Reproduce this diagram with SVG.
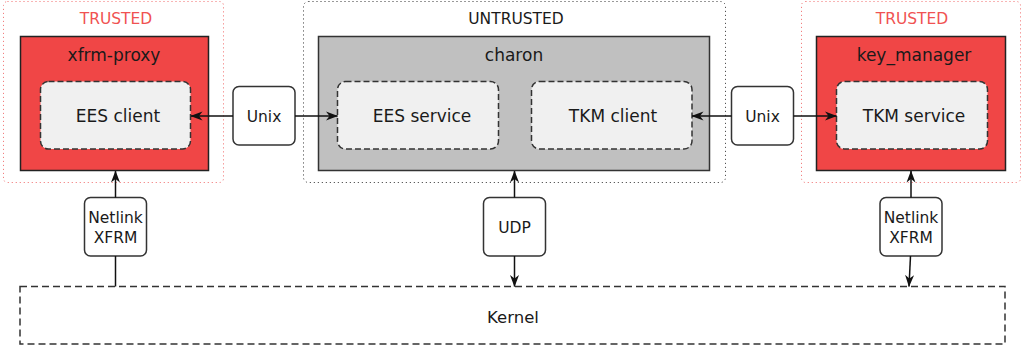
<svg xmlns="http://www.w3.org/2000/svg" width="1023" height="347" viewBox="0 0 1023 347">
  <style>
    text { font-family: "DejaVu Sans", "Liberation Sans", sans-serif; fill: #1a1a1a; text-anchor: middle; }
    .zone-t { fill: none; stroke: #f06a6a; stroke-width: 1; stroke-dasharray: 1 3; }
    .zone-u { fill: none; stroke: #333; stroke-width: 1; stroke-dasharray: 1 3; }
    .zlabel-t { font-size: 15.5px; fill: #f05252; }
    .zlabel-u { font-size: 15.5px; }
    .proc-t { fill: #f04646; stroke: #222; stroke-width: 1.5; }
    .proc-u { fill: #c0c0c0; stroke: #333; stroke-width: 1.5; }
    .ptitle { font-size: 17px; }
    .comp { fill: #f0f0f0; stroke: #333; stroke-width: 1.5; stroke-dasharray: 6 3; }
    .clabel { font-size: 17px; }
    .chan { fill: #fff; stroke: #333; stroke-width: 1.5; }
    .chlabel { font-size: 15.5px; }
    .kernel { fill: none; stroke: #333; stroke-width: 1.5; stroke-dasharray: 7 4; }
    .link { stroke: #111; stroke-width: 1.5; fill: none; }
  </style>
  <defs>
    <marker id="head" viewBox="0 0 12 10" refX="11.5" refY="5" markerWidth="12" markerHeight="10" markerUnits="userSpaceOnUse" orient="auto">
      <path d="M0,0.5 L12,5 L0,9.5 L3.5,5 Z" fill="#111"/>
    </marker>
  </defs>

  <!-- trust zones -->
  <g id="zone-trusted-left">
    <rect class="zone-t" x="3.5" y="1.5" width="220" height="181" rx="4"/>
    <text class="zlabel-t" x="116" y="24">TRUSTED</text>
  </g>
  <g id="zone-untrusted">
    <rect class="zone-u" x="303.5" y="1.5" width="422" height="181" rx="5"/>
    <text class="zlabel-u" x="516" y="24">UNTRUSTED</text>
  </g>
  <g id="zone-trusted-right">
    <rect class="zone-t" x="801.5" y="1.5" width="219" height="181" rx="4"/>
    <text class="zlabel-t" x="912" y="24">TRUSTED</text>
  </g>

  <!-- processes -->
  <g id="xfrm-proxy">
    <rect class="proc-t" x="20.5" y="36.5" width="188" height="134"/>
    <text class="ptitle" x="114" y="61">xfrm-proxy</text>
  </g>
  <g id="ees-client">
    <rect class="comp" x="40.5" y="81.5" width="150" height="67.5" rx="8"/>
    <text class="clabel" x="118" y="122">EES client</text>
  </g>

  <g id="charon">
    <rect class="proc-u" x="318.5" y="36.5" width="391" height="134"/>
    <text class="ptitle" x="514" y="61">charon</text>
  </g>
  <g id="ees-service">
    <rect class="comp" x="337.5" y="81.5" width="161" height="67.5" rx="8"/>
    <text class="clabel" x="422" y="122">EES service</text>
  </g>
  <g id="tkm-client">
    <rect class="comp" x="531.5" y="81.5" width="160.5" height="67.5" rx="8"/>
    <text class="clabel" x="613" y="122">TKM client</text>
  </g>

  <g id="key-manager">
    <rect class="proc-t" x="816.5" y="36.5" width="189" height="134"/>
    <text class="ptitle" x="914" y="61">key_manager</text>
  </g>
  <g id="tkm-service">
    <rect class="comp" x="836.5" y="81.5" width="151" height="67.5" rx="8"/>
    <text class="clabel" x="914" y="122">TKM service</text>
  </g>

  <g id="kernel">
    <rect class="kernel" x="20" y="286.5" width="985" height="57.5"/>
    <text class="clabel" x="513" y="322.5" style="font-size:16.5px">Kernel</text>
  </g>

  <!-- channels -->
  <g id="unix-left">
    <rect class="chan" x="233" y="86.5" width="62" height="58.5" rx="6"/>
    <text class="chlabel" x="264" y="121.5">Unix</text>
  </g>
  <g id="unix-right">
    <rect class="chan" x="731.5" y="86.5" width="62" height="58.5" rx="6"/>
    <text class="chlabel" x="762.5" y="121.5">Unix</text>
  </g>
  <g id="netlink-left">
    <rect class="chan" x="84.5" y="197.5" width="62" height="58.5" rx="6"/>
    <text class="chlabel" x="115.5" y="223">Netlink</text>
    <text class="chlabel" x="115.5" y="242.5">XFRM</text>
  </g>
  <g id="udp">
    <rect class="chan" x="483.5" y="197.5" width="62" height="58.5" rx="6"/>
    <text class="chlabel" x="514.5" y="232.5">UDP</text>
  </g>
  <g id="netlink-right">
    <rect class="chan" x="880" y="197.5" width="62" height="58.5" rx="6"/>
    <text class="chlabel" x="911" y="223">Netlink</text>
    <text class="chlabel" x="911" y="242.5">XFRM</text>
  </g>

  <!-- connectors -->
  <g id="connectors">
    <line class="link" x1="233" y1="116" x2="191" y2="116" marker-end="url(#head)"/>
    <line class="link" x1="295" y1="116" x2="337.5" y2="116" marker-end="url(#head)"/>
    <line class="link" x1="731.5" y1="116" x2="692" y2="116" marker-end="url(#head)"/>
    <line class="link" x1="793.5" y1="116" x2="836.5" y2="116" marker-end="url(#head)"/>

    <line class="link" x1="115.5" y1="197.5" x2="115.5" y2="171" marker-end="url(#head)"/>
    <line class="link" x1="115.5" y1="256" x2="115.5" y2="286.5"/>

    <line class="link" x1="514.5" y1="197.5" x2="514.5" y2="171" marker-end="url(#head)"/>
    <line class="link" x1="514.5" y1="256" x2="514.5" y2="286.5" marker-end="url(#head)"/>

    <line class="link" x1="911" y1="197.5" x2="911" y2="171" marker-end="url(#head)"/>
    <line class="link" x1="910.5" y1="256" x2="909" y2="286.5" marker-end="url(#head)"/>
  </g>
</svg>
